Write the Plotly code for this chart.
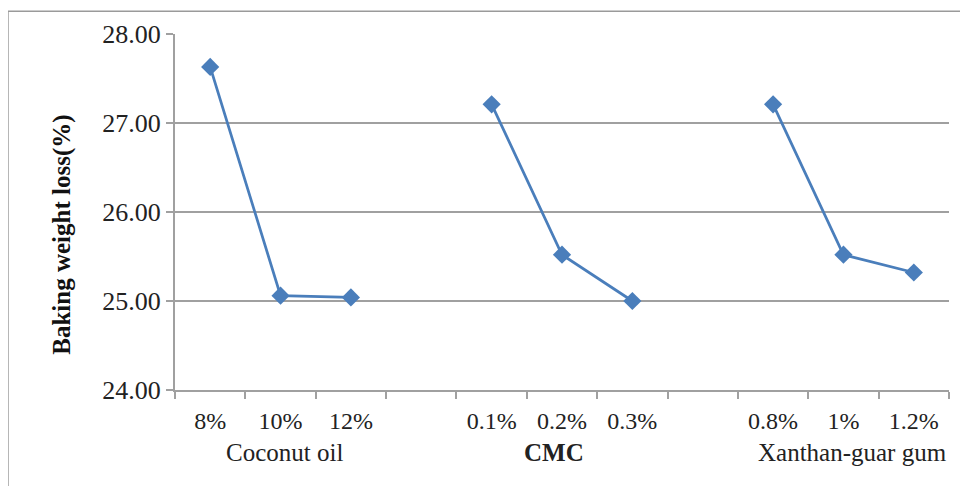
import plotly.graph_objects as go

groups = ["Coconut oil", "CMC", "Xanthan-guar gum"]
levels = [["8%", "10%", "12%"], ["0.1%", "0.2%", "0.3%"], ["0.8%", "1%", "1.2%"]]
values = [[27.63, 25.06, 25.04], [27.21, 25.52, 25.00], [27.21, 25.52, 25.32]]
y_ticks = [24, 25, 26, 27, 28]
y_title = "Baking weight loss(%)"

FONT = "Liberation Serif, Times New Roman, serif"
BLUE = "#4A7EBB"
GRID = "#A0A0A0"

fig = go.Figure()

tick_vals, tick_text, group_centers = [], [], []
slot = 0
for gi, (g, labs, vals) in enumerate(zip(groups, levels, values)):
    xs = [slot + k + 0.5 for k in range(len(labs))]
    fig.add_trace(go.Scatter(
        x=xs, y=vals, mode="lines+markers",
        line=dict(color=BLUE, width=2.75),
        marker=dict(symbol="diamond", size=14, color=BLUE),
        showlegend=False, hoverinfo="skip"))
    tick_vals += xs
    tick_text += labs
    group_centers.append(sum(xs) / len(xs))
    slot += len(labs) + 1
n_slots = slot - 1

fig.update_xaxes(
    range=[0, n_slots], tickmode="array", tickvals=tick_vals, ticktext=tick_text,
    ticks="", showgrid=False, showline=True, linecolor=GRID, linewidth=2,
    tickfont=dict(family=FONT, size=24, color="#222"), ticklabelstandoff=8,
    minor=dict(tickmode="array", tickvals=list(range(n_slots + 1)), ticks="outside",
               ticklen=7, tickcolor=GRID, tickwidth=2, showgrid=False),
    zeroline=False)
fig.update_yaxes(
    range=[24, 28], tickvals=y_ticks, ticktext=[f"{v:.2f}" for v in y_ticks],
    ticks="outside", ticklen=7, tickcolor=GRID, tickwidth=2,
    showgrid=True, gridcolor=GRID, gridwidth=2,
    showline=True, linecolor=GRID, linewidth=2, zeroline=False,
    tickfont=dict(family=FONT, size=26, color="#222"))

# y-axis title (positioned as in the reference, slightly below plot centre)
fig.add_annotation(x=-0.146, y=0.436, xref="paper", yref="paper", text=f"<b>{y_title}</b>",
                   showarrow=False, textangle=-90, xanchor="center", yanchor="middle",
                   font=dict(family=FONT, size=25, color="#111"))

shifts = [4, -8, 9]
for gi, (g, cx) in enumerate(zip(groups, group_centers)):
    txt = f"<b>{g}</b>" if g == "CMC" else g
    fig.add_annotation(x=cx, y=-0.175, xref="x", yref="paper", text=txt, showarrow=False,
                       xanchor="center", yanchor="middle", xshift=shifts[gi],
                       font=dict(family=FONT, size=25, color="#222"))

# outer chart border (only top and left visible); page body has 8px margin
fig.add_shape(type="line", xref="paper", yref="paper", x0=-0.2158, x1=1.03, y0=1.064, y1=1.064,
              line=dict(color="#9A9A9A", width=1.5))
fig.add_shape(type="line", xref="paper", yref="paper", x0=-0.2158, x1=-0.2158, y0=1.064, y1=-0.3,
              line=dict(color="#9A9A9A", width=1.5))

fig.update_layout(
    width=960, height=478, margin=dict(l=167, r=19, t=23, b=96),
    plot_bgcolor="white", paper_bgcolor="white",
    font=dict(family=FONT))

fig.write_html("out.html")
